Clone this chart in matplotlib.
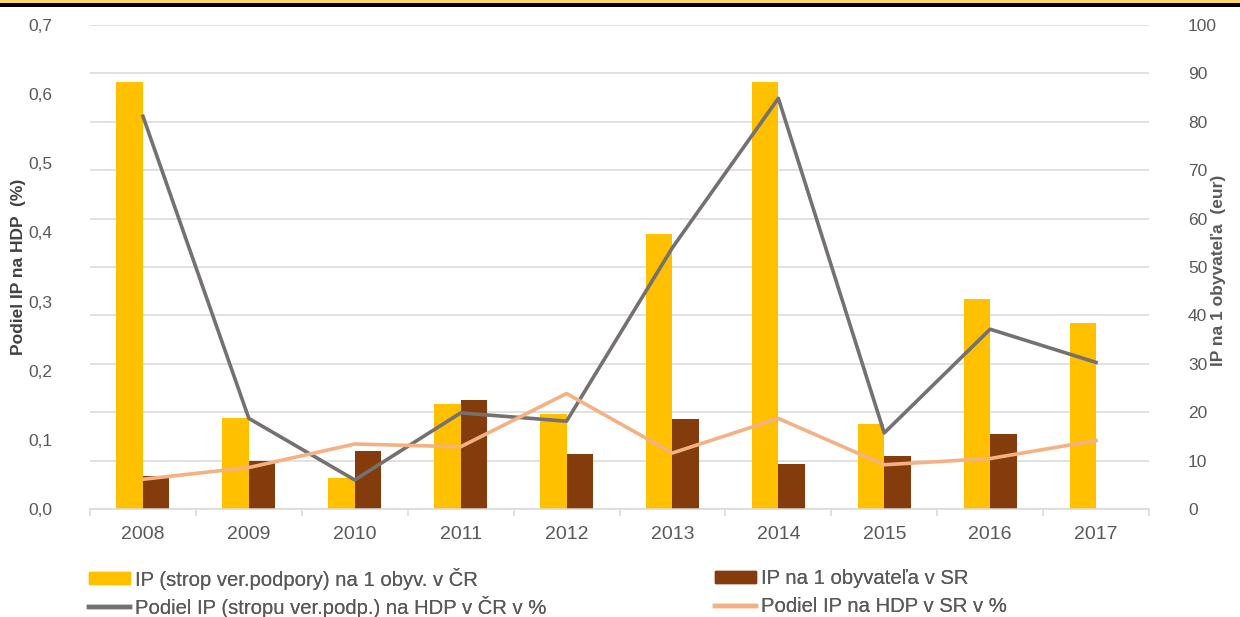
# -*- coding: utf-8 -*-
"""IP per capita (bars, eur) and IP share of GDP (lines, %) for CR and SR, 2008-2017."""
import numpy as np
import matplotlib as mpl
mpl.use("Agg")
import matplotlib.pyplot as plt
from matplotlib.patches import Rectangle, Patch
from matplotlib.lines import Line2D
from matplotlib.ticker import FuncFormatter, MultipleLocator, FixedLocator

mpl.rcParams.update({
    "font.family": ["Liberation Sans", "DejaVu Sans"],
    "font.size": 12.5,
})

years = ["2008", "2009", "2010", "2011", "2012", "2013", "2014", "2015", "2016", "2017"]
# eur per capita (right axis)
ip_cr_eur = [88.3, 18.7, 6.5, 21.7, 19.6, 56.8, 88.3, 17.6, 43.4, 38.5]
ip_sr_eur = [6.9, 9.9, 12.0, 22.5, 11.4, 18.5, 9.3, 10.9, 15.5, np.nan]
# share of GDP in % (left axis)
share_cr = [0.568, 0.131, 0.042, 0.139, 0.127, 0.378, 0.594, 0.110, 0.260, 0.212]
share_sr = [0.043, 0.060, 0.094, 0.090, 0.167, 0.081, 0.131, 0.064, 0.073, 0.099]

labels = [
    "IP (strop ver.podpory) na 1 obyv. v ČR",
    "IP na 1 obyvateľa v SR",
    "Podiel IP (stropu ver.podp.) na HDP v ČR v %",
    "Podiel IP na HDP v SR v %",
]

c_yellow = "#FFC000"
c_brown = "#843C0C"
c_gray = "#767171"
c_salmon = "#F4B183"
c_grid = "#D9D9D9"
c_text = "#595959"

W, H = 1240, 617
fig = plt.figure(figsize=(W / 100, H / 100), dpi=100)
ax = fig.add_axes([90 / W, 1 - 509 / H, (1149 - 90) / W, (509 - 25) / H])
ax2 = ax.twinx()

x = np.arange(len(years))
bw = 0.25
ax.bar(x - bw / 2, ip_cr_eur, width=bw, color=c_yellow, zorder=2)
ax.bar(x + bw / 2, ip_sr_eur, width=bw, color=c_brown, zorder=2)

ax.set_xlim(-0.5, len(years) - 0.5)
ax.set_ylim(0, 100)
ax.yaxis.set_major_locator(MultipleLocator(10))
ax.yaxis.tick_right()
ax.grid(axis="y", color=c_grid, lw=1.1)
ax.set_axisbelow(True)
ax.tick_params(axis="y", length=0, pad=28, labelcolor=c_text, labelsize=12.5)

ax.set_xticks(x)
ax.set_xticklabels(years)
ax.xaxis.set_minor_locator(FixedLocator(np.arange(-0.5, len(years), 1.0)))
ax.tick_params(axis="x", which="major", length=0, pad=12, labelcolor=c_text, labelsize=14)
ax.tick_params(axis="x", which="minor", length=5, color=c_grid, width=1.1)

for s in ["top", "left", "right"]:
    ax.spines[s].set_visible(False)
ax.spines["bottom"].set_color(c_grid)
ax.spines["bottom"].set_linewidth(1.1)

ax2.plot(x, share_cr, color=c_gray, lw=2.6, zorder=3)
ax2.plot(x, share_sr, color=c_salmon, lw=2.6, zorder=3)
ax2.set_ylim(0, 0.7)
ax2.yaxis.set_major_locator(MultipleLocator(0.1))
ax2.yaxis.set_major_formatter(FuncFormatter(lambda v, p: f"{v:.1f}".replace(".", ",")))
ax2.yaxis.tick_left()
ax2.tick_params(axis="y", length=0, pad=27, labelcolor=c_text, labelsize=12.5)
for s in ax2.spines.values():
    s.set_visible(False)

# axis titles, placed where the reference has them
ax_w = 1149 - 90
fig.text(19 / W, 1 - 267 / H, "Podiel IP na HDP  (%)", rotation=90, ha="center", va="center",
         fontsize=12.5, fontweight="bold", color="#404040")
fig.text(1219 / W, 1 - 270 / H, "IP na 1 obyvateľa  (eur)", rotation=90, ha="center",
         va="center", fontsize=12.5, fontweight="bold", color=c_text)

# legend: one entry per box so the rows line up across both columns
handles = [
    Patch(color=c_yellow, label=labels[0]),
    Patch(color=c_brown, label=labels[1]),
    Line2D([0], [0], color=c_gray, lw=3.2, label=labels[2]),
    Line2D([0], [0], color=c_salmon, lw=3.2, label=labels[3]),
]
spots = [(89, 578.5), (715, 578.5), (89, 607), (715, 607)]
for h, (px, py) in zip(handles, spots):
    fig.add_artist(fig.legend(handles=[h], loc="center left",
                              bbox_to_anchor=(px / W, 1 - py / H), frameon=False,
                              fontsize=14.6, handlelength=2.0, handleheight=0.55,
                              handletextpad=0.25, labelcolor=c_text,
                              borderaxespad=0, borderpad=0))

# top border: yellow band over a black rule
fig.add_artist(Rectangle((0, 1 - 3.5 / H), 1, 3.5 / H, transform=fig.transFigure,
                         color="#FFD966", lw=0))
fig.add_artist(Rectangle((0, 1 - 6.5 / H), 1, 3 / H, transform=fig.transFigure,
                         color="black", lw=0))

fig.savefig("out.png", dpi=100)
plt.close(fig)
